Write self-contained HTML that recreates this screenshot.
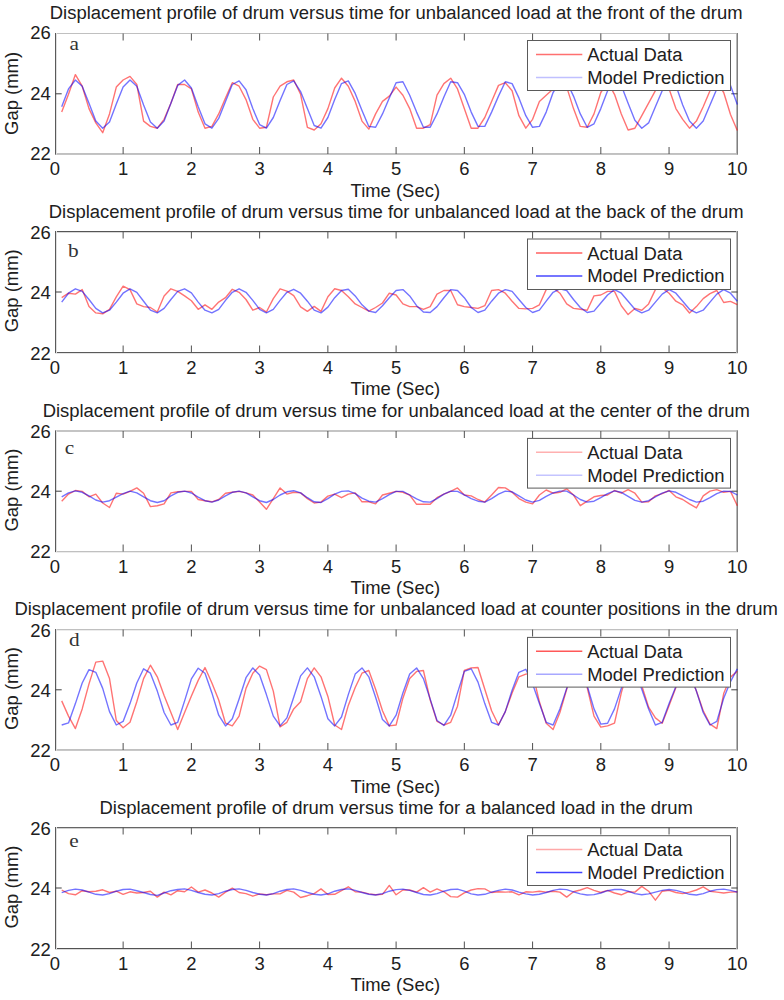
<!DOCTYPE html>
<html><head><meta charset="utf-8"><style>html,body{margin:0;padding:0;background:#fff;}svg{display:block;}</style></head>
<body><svg width="784" height="1000" viewBox="0 0 784 1000" font-family="Liberation Sans, sans-serif" fill="#202020">
<rect width="784" height="1000" fill="#fff"/>
<text x="396.2" y="19.4" font-size="18.45" text-anchor="middle">Displacement profile of drum versus time for unbalanced load at the front of the drum</text>
<line x1="55.0" y1="33.5" x2="738.0" y2="33.5" stroke="#c0c0c0" stroke-width="1"/>
<line x1="55.0" y1="153.5" x2="738.0" y2="153.5" stroke="#c0c0c0" stroke-width="1"/>
<line x1="55.0" y1="154.5" x2="738.0" y2="154.5" stroke="#c4c4c4" stroke-width="1"/>
<line x1="56.5" y1="33.0" x2="56.5" y2="154.5" stroke="#e0e0e0"/>
<line x1="55.5" y1="33.0" x2="55.5" y2="154.5" stroke="#5a5a5a"/>
<line x1="736.5" y1="33.0" x2="736.5" y2="154.5" stroke="#b8b8b8"/>
<line x1="737.5" y1="33.0" x2="737.5" y2="154.5" stroke="#808080"/>
<text x="54.9" y="175.0" font-size="18.45" text-anchor="middle">0</text>
<line x1="123.14" y1="154.0" x2="123.14" y2="147.0" stroke="#505050"/>
<line x1="123.14" y1="33.5" x2="123.14" y2="40.5" stroke="#505050"/>
<text x="123.1" y="175.0" font-size="18.45" text-anchor="middle">1</text>
<line x1="191.38" y1="154.0" x2="191.38" y2="147.0" stroke="#505050"/>
<line x1="191.38" y1="33.5" x2="191.38" y2="40.5" stroke="#505050"/>
<text x="191.4" y="175.0" font-size="18.45" text-anchor="middle">2</text>
<line x1="259.62" y1="154.0" x2="259.62" y2="147.0" stroke="#505050"/>
<line x1="259.62" y1="33.5" x2="259.62" y2="40.5" stroke="#505050"/>
<text x="259.6" y="175.0" font-size="18.45" text-anchor="middle">3</text>
<line x1="327.86" y1="154.0" x2="327.86" y2="147.0" stroke="#505050"/>
<line x1="327.86" y1="33.5" x2="327.86" y2="40.5" stroke="#505050"/>
<text x="327.9" y="175.0" font-size="18.45" text-anchor="middle">4</text>
<line x1="396.10" y1="154.0" x2="396.10" y2="147.0" stroke="#505050"/>
<line x1="396.10" y1="33.5" x2="396.10" y2="40.5" stroke="#505050"/>
<text x="396.1" y="175.0" font-size="18.45" text-anchor="middle">5</text>
<line x1="464.34" y1="154.0" x2="464.34" y2="147.0" stroke="#505050"/>
<line x1="464.34" y1="33.5" x2="464.34" y2="40.5" stroke="#505050"/>
<text x="464.3" y="175.0" font-size="18.45" text-anchor="middle">6</text>
<line x1="532.58" y1="154.0" x2="532.58" y2="147.0" stroke="#505050"/>
<line x1="532.58" y1="33.5" x2="532.58" y2="40.5" stroke="#505050"/>
<text x="532.6" y="175.0" font-size="18.45" text-anchor="middle">7</text>
<line x1="600.82" y1="154.0" x2="600.82" y2="147.0" stroke="#505050"/>
<line x1="600.82" y1="33.5" x2="600.82" y2="40.5" stroke="#505050"/>
<text x="600.8" y="175.0" font-size="18.45" text-anchor="middle">8</text>
<line x1="669.06" y1="154.0" x2="669.06" y2="147.0" stroke="#505050"/>
<line x1="669.06" y1="33.5" x2="669.06" y2="40.5" stroke="#505050"/>
<text x="669.1" y="175.0" font-size="18.45" text-anchor="middle">9</text>
<text x="737.3" y="175.0" font-size="18.45" text-anchor="middle">10</text>
<text x="50.7" y="159.90" font-size="18.45" text-anchor="end">22</text>
<line x1="55.5" y1="93.8" x2="61.7" y2="93.8" stroke="#404040"/>
<line x1="737.5" y1="93.8" x2="731.3" y2="93.8" stroke="#404040"/>
<text x="50.7" y="99.65" font-size="18.45" text-anchor="end">24</text>
<text x="50.7" y="39.40" font-size="18.45" text-anchor="end">26</text>
<text transform="translate(18.3,93.40) rotate(-90)" font-size="18.45" text-anchor="middle">Gap (mm)</text>
<text x="395.3" y="196.9" font-size="18.45" text-anchor="middle">Time (Sec)</text>
<text transform="translate(69.6,50.3) scale(1.17,1)" font-size="18.2" fill="#333" font-family="Liberation Serif, serif">a</text>
<polyline points="61.7,112.1 68.5,94.3 75.4,74.6 82.2,86.2 89.0,108.6 95.8,122.9 102.7,132.7 109.5,113.9 116.3,87.1 123.1,80.0 130.0,76.4 136.8,84.5 143.6,121.1 150.4,126.4 157.3,128.2 164.1,119.3 170.9,103.2 177.7,84.5 184.6,84.5 191.4,88.9 198.2,112.1 205.0,128.2 211.9,126.4 218.7,113.9 225.5,97.9 232.3,82.7 239.1,86.2 246.0,99.6 252.8,119.3 259.6,128.2 266.4,127.3 273.3,97.0 280.1,86.2 286.9,81.8 293.7,80.0 300.6,94.3 307.4,127.3 314.2,130.0 321.0,123.8 327.9,108.6 334.7,88.0 341.5,78.2 348.3,86.2 355.2,101.4 362.0,121.1 368.8,129.1 375.6,113.9 382.5,101.4 389.3,96.1 396.1,87.1 402.9,95.2 409.7,108.6 416.6,128.2 423.4,128.2 430.2,124.6 437.0,95.2 443.9,83.6 450.7,78.2 457.5,88.9 464.3,108.6 471.2,128.2 478.0,128.2 484.8,117.5 491.6,101.4 498.5,85.4 505.3,82.7 512.1,90.7 518.9,115.7 525.8,128.2 532.6,119.3 539.4,101.4 546.2,95.2 553.1,88.9 559.9,81.8 566.7,87.1 573.5,108.6 580.3,126.4 587.2,127.3 594.0,113.9 600.8,92.5 607.6,81.8 614.5,94.3 621.3,113.9 628.1,130.0 634.9,128.2 641.8,115.7 648.6,103.2 655.4,90.7 662.2,81.8 669.1,88.9 675.9,108.6 682.7,119.3 689.5,128.2 696.4,121.1 703.2,106.8 710.0,90.7 716.8,81.8 723.7,92.5 730.5,114.5 737.3,130.5" fill="none" stroke="#ff0000" stroke-opacity="0.55" stroke-width="1.4" stroke-linejoin="round"/>
<polyline points="61.7,106.8 68.5,88.9 75.4,80.0 82.2,86.2 89.0,103.2 95.8,121.1 102.7,128.2 109.5,122.0 116.3,104.1 123.1,87.1 130.0,80.0 136.8,86.2 143.6,105.0 150.4,122.0 157.3,128.2 164.1,121.1 170.9,103.2 177.7,85.4 184.6,80.0 191.4,88.0 198.2,106.8 205.0,123.8 211.9,128.2 218.7,118.4 225.5,101.4 232.3,84.5 239.1,80.9 246.0,89.8 252.8,108.6 259.6,124.6 266.4,128.2 273.3,117.5 280.1,100.5 286.9,84.5 293.7,80.9 300.6,91.6 307.4,108.6 314.2,125.5 321.0,128.2 327.9,117.5 334.7,99.6 341.5,83.6 348.3,80.9 355.2,93.4 362.0,110.4 368.8,126.4 375.6,127.3 382.5,113.9 389.3,97.9 396.1,82.7 402.9,81.8 409.7,95.2 416.6,112.1 423.4,127.3 430.2,127.3 437.0,113.9 443.9,97.0 450.7,81.8 457.5,82.7 464.3,94.3 471.2,112.1 478.0,126.4 484.8,126.4 491.6,112.1 498.5,96.1 505.3,81.8 512.1,83.6 518.9,97.9 525.8,115.7 532.6,127.3 539.4,126.4 546.2,112.1 553.1,92.5 559.9,81.8 566.7,81.8 573.5,96.1 580.3,113.9 587.2,127.3 594.0,123.8 600.8,108.6 607.6,90.7 614.5,81.8 621.3,85.4 628.1,103.2 634.9,120.2 641.8,128.2 648.6,122.9 655.4,106.8 662.2,90.7 669.1,81.8 675.9,85.4 682.7,105.0 689.5,121.1 696.4,128.2 703.2,121.1 710.0,105.0 716.8,88.9 723.7,81.8 730.5,85.4 737.3,104.6" fill="none" stroke="#0000ff" stroke-opacity="0.55" stroke-width="1.4" stroke-linejoin="round"/>
<rect x="527.5" y="40.50" width="203" height="50.00" fill="#fff" stroke="#5a5a5a" stroke-width="1"/>
<line x1="536" y1="54.40" x2="582.3" y2="54.40" stroke="#ff7070" stroke-width="1.5"/>
<line x1="536" y1="77.40" x2="582.3" y2="77.40" stroke="#c0c0ff" stroke-width="1.5"/>
<text x="587.2" y="61.10" font-size="18.45">Actual Data</text>
<text x="587.2" y="83.60" font-size="18.45">Model Prediction</text>
<text x="396.2" y="217.9" font-size="18.45" text-anchor="middle">Displacement profile of drum versus time for unbalanced load at the back of the drum</text>
<line x1="55.0" y1="231.5" x2="738.0" y2="231.5" stroke="#555" stroke-width="1"/>
<line x1="55.0" y1="232.5" x2="738.0" y2="232.5" stroke="#d8d8d8" stroke-width="1"/>
<line x1="55.0" y1="352.5" x2="738.0" y2="352.5" stroke="#5a5a5a" stroke-width="1"/>
<line x1="55.0" y1="353.5" x2="738.0" y2="353.5" stroke="#e4e4e4" stroke-width="1"/>
<line x1="56.5" y1="231.0" x2="56.5" y2="353.0" stroke="#e0e0e0"/>
<line x1="55.5" y1="231.0" x2="55.5" y2="353.0" stroke="#5a5a5a"/>
<line x1="736.5" y1="231.0" x2="736.5" y2="353.0" stroke="#b8b8b8"/>
<line x1="737.5" y1="231.0" x2="737.5" y2="353.0" stroke="#808080"/>
<text x="54.9" y="373.5" font-size="18.45" text-anchor="middle">0</text>
<line x1="123.14" y1="352.5" x2="123.14" y2="345.5" stroke="#505050"/>
<line x1="123.14" y1="231.5" x2="123.14" y2="238.5" stroke="#505050"/>
<text x="123.1" y="373.5" font-size="18.45" text-anchor="middle">1</text>
<line x1="191.38" y1="352.5" x2="191.38" y2="345.5" stroke="#505050"/>
<line x1="191.38" y1="231.5" x2="191.38" y2="238.5" stroke="#505050"/>
<text x="191.4" y="373.5" font-size="18.45" text-anchor="middle">2</text>
<line x1="259.62" y1="352.5" x2="259.62" y2="345.5" stroke="#505050"/>
<line x1="259.62" y1="231.5" x2="259.62" y2="238.5" stroke="#505050"/>
<text x="259.6" y="373.5" font-size="18.45" text-anchor="middle">3</text>
<line x1="327.86" y1="352.5" x2="327.86" y2="345.5" stroke="#505050"/>
<line x1="327.86" y1="231.5" x2="327.86" y2="238.5" stroke="#505050"/>
<text x="327.9" y="373.5" font-size="18.45" text-anchor="middle">4</text>
<line x1="396.10" y1="352.5" x2="396.10" y2="345.5" stroke="#505050"/>
<line x1="396.10" y1="231.5" x2="396.10" y2="238.5" stroke="#505050"/>
<text x="396.1" y="373.5" font-size="18.45" text-anchor="middle">5</text>
<line x1="464.34" y1="352.5" x2="464.34" y2="345.5" stroke="#505050"/>
<line x1="464.34" y1="231.5" x2="464.34" y2="238.5" stroke="#505050"/>
<text x="464.3" y="373.5" font-size="18.45" text-anchor="middle">6</text>
<line x1="532.58" y1="352.5" x2="532.58" y2="345.5" stroke="#505050"/>
<line x1="532.58" y1="231.5" x2="532.58" y2="238.5" stroke="#505050"/>
<text x="532.6" y="373.5" font-size="18.45" text-anchor="middle">7</text>
<line x1="600.82" y1="352.5" x2="600.82" y2="345.5" stroke="#505050"/>
<line x1="600.82" y1="231.5" x2="600.82" y2="238.5" stroke="#505050"/>
<text x="600.8" y="373.5" font-size="18.45" text-anchor="middle">8</text>
<line x1="669.06" y1="352.5" x2="669.06" y2="345.5" stroke="#505050"/>
<line x1="669.06" y1="231.5" x2="669.06" y2="238.5" stroke="#505050"/>
<text x="669.1" y="373.5" font-size="18.45" text-anchor="middle">9</text>
<text x="737.3" y="373.5" font-size="18.45" text-anchor="middle">10</text>
<text x="50.7" y="359.60" font-size="18.45" text-anchor="end">22</text>
<line x1="55.5" y1="292.0" x2="61.7" y2="292.0" stroke="#404040"/>
<line x1="737.5" y1="292.0" x2="731.3" y2="292.0" stroke="#404040"/>
<text x="50.7" y="299.10" font-size="18.45" text-anchor="end">24</text>
<text x="50.7" y="238.60" font-size="18.45" text-anchor="end">26</text>
<text transform="translate(18.3,290.80) rotate(-90)" font-size="18.45" text-anchor="middle">Gap (mm)</text>
<text x="395.3" y="395.4" font-size="18.45" text-anchor="middle">Time (Sec)</text>
<text transform="translate(67.9,256.9) scale(1.17,1)" font-size="18.2" fill="#333" font-family="Liberation Serif, serif">b</text>
<polyline points="61.7,297.7 68.5,293.2 75.4,294.1 82.2,289.6 89.0,306.6 95.8,312.9 102.7,313.8 109.5,309.3 116.3,296.8 123.1,286.1 130.0,289.6 136.8,303.9 143.6,306.6 150.4,307.5 157.3,312.0 164.1,295.9 170.9,288.8 177.7,291.4 184.6,295.9 191.4,300.7 198.2,309.3 205.0,304.8 211.9,309.3 218.7,302.1 225.5,297.7 232.3,289.3 239.1,292.3 246.0,299.5 252.8,310.2 259.6,307.5 266.4,312.0 273.3,298.6 280.1,288.8 286.9,291.1 293.7,295.7 300.6,306.8 307.4,311.4 314.2,306.4 321.0,311.4 327.9,296.8 334.7,288.8 341.5,290.5 348.3,296.8 355.2,303.9 362.0,307.5 368.8,311.1 375.6,307.5 382.5,303.0 389.3,293.2 396.1,295.0 402.9,303.9 409.7,306.6 416.6,306.6 423.4,309.3 430.2,306.6 437.0,294.1 443.9,290.5 450.7,290.5 457.5,304.8 464.3,306.6 471.2,307.5 478.0,308.4 484.8,305.7 491.6,290.5 498.5,289.6 505.3,293.2 512.1,301.2 518.9,308.4 525.8,308.9 532.6,308.4 539.4,304.8 546.2,289.6 553.1,287.9 559.9,293.2 566.7,303.9 573.5,308.4 580.3,309.3 587.2,310.2 594.0,295.9 600.8,295.0 607.6,291.4 614.5,291.4 621.3,305.7 628.1,314.6 634.9,308.4 641.8,310.2 648.6,303.9 655.4,289.6 662.2,287.9 669.1,293.2 675.9,301.2 682.7,304.8 689.5,313.0 696.4,306.6 703.2,298.6 710.0,293.6 716.8,290.5 723.7,302.5 730.5,301.4 737.3,304.6" fill="none" stroke="#ff0000" stroke-opacity="0.55" stroke-width="1.4" stroke-linejoin="round"/>
<polyline points="61.7,302.1 68.5,293.2 75.4,288.8 82.2,291.4 89.0,299.5 95.8,308.4 102.7,312.9 109.5,310.2 116.3,302.1 123.1,293.2 130.0,288.8 136.8,292.3 143.6,301.2 150.4,310.2 157.3,312.9 164.1,308.4 170.9,299.5 177.7,291.4 184.6,288.8 191.4,292.9 198.2,302.1 205.0,310.2 211.9,312.9 218.7,309.3 225.5,300.4 232.3,292.3 239.1,288.8 246.0,292.3 252.8,300.4 259.6,309.3 266.4,312.9 273.3,309.3 280.1,300.4 286.9,292.3 293.7,289.3 300.6,293.2 307.4,301.2 314.2,310.2 321.0,312.9 327.9,307.1 334.7,297.7 341.5,290.5 348.3,289.3 355.2,295.9 362.0,304.8 368.8,311.1 375.6,312.5 382.5,305.7 389.3,297.7 396.1,290.5 402.9,289.6 409.7,295.9 416.6,305.7 423.4,312.0 430.2,312.5 437.0,306.6 443.9,297.7 450.7,289.6 457.5,290.5 464.3,297.7 471.2,307.5 478.0,312.5 484.8,310.2 491.6,301.2 498.5,293.2 505.3,289.6 512.1,291.4 518.9,299.5 525.8,307.5 532.6,312.5 539.4,310.2 546.2,301.2 553.1,292.3 559.9,288.8 566.7,290.5 573.5,299.5 580.3,307.5 587.2,312.5 594.0,311.1 600.8,303.0 607.6,295.0 614.5,289.6 621.3,293.2 628.1,301.2 634.9,309.3 641.8,312.9 648.6,310.2 655.4,302.1 662.2,294.1 669.1,289.6 675.9,293.2 682.7,301.2 689.5,309.3 696.4,312.9 703.2,310.2 710.0,302.1 716.8,294.1 723.7,289.6 730.5,293.2 737.3,301.2" fill="none" stroke="#0000ff" stroke-opacity="0.55" stroke-width="1.4" stroke-linejoin="round"/>
<rect x="527.5" y="239.00" width="203" height="50.50" fill="#fff" stroke="#5a5a5a" stroke-width="1"/>
<line x1="536" y1="252.90" x2="582.3" y2="252.90" stroke="#ff6060" stroke-width="1.5"/>
<line x1="536" y1="275.90" x2="582.3" y2="275.90" stroke="#4848ff" stroke-width="1.5"/>
<text x="587.2" y="259.60" font-size="18.45">Actual Data</text>
<text x="587.2" y="282.10" font-size="18.45">Model Prediction</text>
<text x="396.2" y="416.9" font-size="18.45" text-anchor="middle">Displacement profile of drum versus time for unbalanced load at the center of the drum</text>
<line x1="55.0" y1="430.5" x2="738.0" y2="430.5" stroke="#c4c4c4" stroke-width="1"/>
<line x1="55.0" y1="431.5" x2="738.0" y2="431.5" stroke="#c4c4c4" stroke-width="1"/>
<line x1="55.0" y1="551.5" x2="738.0" y2="551.5" stroke="#c0c0c0" stroke-width="1"/>
<line x1="55.0" y1="552.5" x2="738.0" y2="552.5" stroke="#ececec" stroke-width="1"/>
<line x1="56.5" y1="430.5" x2="56.5" y2="552.0" stroke="#e0e0e0"/>
<line x1="55.5" y1="430.5" x2="55.5" y2="552.0" stroke="#5a5a5a"/>
<line x1="736.5" y1="430.5" x2="736.5" y2="552.0" stroke="#b8b8b8"/>
<line x1="737.5" y1="430.5" x2="737.5" y2="552.0" stroke="#808080"/>
<text x="54.9" y="572.5" font-size="18.45" text-anchor="middle">0</text>
<line x1="123.14" y1="551.5" x2="123.14" y2="544.5" stroke="#505050"/>
<line x1="123.14" y1="431.0" x2="123.14" y2="438.0" stroke="#505050"/>
<text x="123.1" y="572.5" font-size="18.45" text-anchor="middle">1</text>
<line x1="191.38" y1="551.5" x2="191.38" y2="544.5" stroke="#505050"/>
<line x1="191.38" y1="431.0" x2="191.38" y2="438.0" stroke="#505050"/>
<text x="191.4" y="572.5" font-size="18.45" text-anchor="middle">2</text>
<line x1="259.62" y1="551.5" x2="259.62" y2="544.5" stroke="#505050"/>
<line x1="259.62" y1="431.0" x2="259.62" y2="438.0" stroke="#505050"/>
<text x="259.6" y="572.5" font-size="18.45" text-anchor="middle">3</text>
<line x1="327.86" y1="551.5" x2="327.86" y2="544.5" stroke="#505050"/>
<line x1="327.86" y1="431.0" x2="327.86" y2="438.0" stroke="#505050"/>
<text x="327.9" y="572.5" font-size="18.45" text-anchor="middle">4</text>
<line x1="396.10" y1="551.5" x2="396.10" y2="544.5" stroke="#505050"/>
<line x1="396.10" y1="431.0" x2="396.10" y2="438.0" stroke="#505050"/>
<text x="396.1" y="572.5" font-size="18.45" text-anchor="middle">5</text>
<line x1="464.34" y1="551.5" x2="464.34" y2="544.5" stroke="#505050"/>
<line x1="464.34" y1="431.0" x2="464.34" y2="438.0" stroke="#505050"/>
<text x="464.3" y="572.5" font-size="18.45" text-anchor="middle">6</text>
<line x1="532.58" y1="551.5" x2="532.58" y2="544.5" stroke="#505050"/>
<line x1="532.58" y1="431.0" x2="532.58" y2="438.0" stroke="#505050"/>
<text x="532.6" y="572.5" font-size="18.45" text-anchor="middle">7</text>
<line x1="600.82" y1="551.5" x2="600.82" y2="544.5" stroke="#505050"/>
<line x1="600.82" y1="431.0" x2="600.82" y2="438.0" stroke="#505050"/>
<text x="600.8" y="572.5" font-size="18.45" text-anchor="middle">8</text>
<line x1="669.06" y1="551.5" x2="669.06" y2="544.5" stroke="#505050"/>
<line x1="669.06" y1="431.0" x2="669.06" y2="438.0" stroke="#505050"/>
<text x="669.1" y="572.5" font-size="18.45" text-anchor="middle">9</text>
<text x="737.3" y="572.5" font-size="18.45" text-anchor="middle">10</text>
<text x="50.7" y="558.30" font-size="18.45" text-anchor="end">22</text>
<line x1="55.5" y1="491.2" x2="61.7" y2="491.2" stroke="#404040"/>
<line x1="737.5" y1="491.2" x2="731.3" y2="491.2" stroke="#404040"/>
<text x="50.7" y="498.05" font-size="18.45" text-anchor="end">24</text>
<text x="50.7" y="437.80" font-size="18.45" text-anchor="end">26</text>
<text transform="translate(18.3,490.05) rotate(-90)" font-size="18.45" text-anchor="middle">Gap (mm)</text>
<text x="395.3" y="594.4" font-size="18.45" text-anchor="middle">Time (Sec)</text>
<text transform="translate(64.8,454.2) scale(1.17,1)" font-size="18.2" fill="#333" font-family="Liberation Serif, serif">c</text>
<polyline points="61.7,501.2 68.5,494.1 75.4,490.5 82.2,491.4 89.0,496.8 95.8,494.1 102.7,503.0 109.5,507.5 116.3,493.2 123.1,494.1 130.0,491.4 136.8,487.9 143.6,493.2 150.4,506.6 157.3,505.7 164.1,503.9 170.9,492.9 177.7,491.8 184.6,491.4 191.4,491.4 198.2,499.5 205.0,500.7 211.9,501.8 218.7,499.5 225.5,493.2 232.3,492.3 239.1,491.4 246.0,492.9 252.8,495.0 259.6,502.1 266.4,509.3 273.3,498.6 280.1,487.9 286.9,494.1 293.7,492.3 300.6,492.9 307.4,498.6 314.2,503.0 321.0,502.1 327.9,496.1 334.7,494.1 341.5,497.7 348.3,494.1 355.2,492.9 362.0,501.8 368.8,501.8 375.6,503.9 382.5,495.0 389.3,493.2 396.1,491.4 402.9,492.3 409.7,495.0 416.6,504.3 423.4,504.3 430.2,504.3 437.0,497.7 443.9,494.1 450.7,491.4 457.5,487.9 464.3,495.0 471.2,495.9 478.0,499.5 484.8,502.1 491.6,495.0 498.5,487.5 505.3,487.9 512.1,492.3 518.9,498.6 525.8,502.1 532.6,503.9 539.4,495.0 546.2,490.0 553.1,493.2 559.9,492.3 566.7,488.8 573.5,495.0 580.3,505.7 587.2,501.2 594.0,496.8 600.8,495.5 607.6,495.0 614.5,490.5 621.3,493.2 628.1,489.6 634.9,493.2 641.8,502.1 648.6,501.8 655.4,495.9 662.2,493.6 669.1,490.5 675.9,496.8 682.7,499.5 689.5,503.9 696.4,507.9 703.2,495.9 710.0,491.1 716.8,489.6 723.7,492.3 730.5,491.4 737.3,505.7" fill="none" stroke="#ff0000" stroke-opacity="0.55" stroke-width="1.4" stroke-linejoin="round"/>
<polyline points="61.7,496.8 68.5,492.9 75.4,490.9 82.2,492.3 89.0,495.9 95.8,500.0 102.7,502.1 109.5,500.7 116.3,497.1 123.1,493.6 130.0,491.1 136.8,492.9 143.6,496.8 150.4,500.7 157.3,502.5 164.1,500.7 170.9,495.9 177.7,492.3 184.6,491.1 191.4,493.0 198.2,497.1 205.0,500.7 211.9,502.1 218.7,500.0 225.5,495.9 232.3,492.3 239.1,491.1 246.0,492.9 252.8,496.8 259.6,500.7 266.4,502.5 273.3,499.5 280.1,495.0 286.9,491.8 293.7,490.7 300.6,492.9 307.4,497.7 314.2,501.8 321.0,502.5 327.9,498.6 334.7,494.1 341.5,491.4 348.3,490.9 355.2,493.6 362.0,498.2 368.8,501.2 375.6,502.1 382.5,498.6 389.3,494.6 396.1,491.4 402.9,491.4 409.7,495.0 416.6,498.9 423.4,501.8 430.2,502.1 437.0,498.6 443.9,494.1 450.7,491.1 457.5,491.4 464.3,494.8 471.2,498.6 478.0,501.2 484.8,502.1 491.6,498.6 498.5,494.1 505.3,491.1 512.1,491.8 518.9,495.9 525.8,500.0 532.6,502.1 539.4,500.4 546.2,496.4 553.1,492.9 559.9,491.1 566.7,491.1 573.5,495.0 580.3,499.5 587.2,502.1 594.0,501.2 600.8,497.7 607.6,493.6 614.5,490.9 621.3,492.3 628.1,496.4 634.9,500.4 641.8,502.1 648.6,500.7 655.4,496.8 662.2,493.2 669.1,490.9 675.9,492.3 682.7,495.9 689.5,499.5 696.4,502.1 703.2,501.2 710.0,497.7 716.8,493.6 723.7,491.1 730.5,491.4 737.3,495.0" fill="none" stroke="#0000ff" stroke-opacity="0.55" stroke-width="1.4" stroke-linejoin="round"/>
<rect x="527.5" y="438.40" width="203" height="49.70" fill="#fff" stroke="#5a5a5a" stroke-width="1"/>
<line x1="536" y1="452.30" x2="582.3" y2="452.30" stroke="#ffb0b0" stroke-width="1.5"/>
<line x1="536" y1="475.30" x2="582.3" y2="475.30" stroke="#c4c4ff" stroke-width="1.5"/>
<text x="587.2" y="459.00" font-size="18.45">Actual Data</text>
<text x="587.2" y="481.50" font-size="18.45">Model Prediction</text>
<text x="396.2" y="615.1" font-size="18.45" text-anchor="middle">Displacement profile of drum versus time for unbalanced load at counter positions in the drum</text>
<line x1="55.0" y1="629.5" x2="738.0" y2="629.5" stroke="#c0c0c0" stroke-width="1"/>
<line x1="55.0" y1="630.5" x2="738.0" y2="630.5" stroke="#ececec" stroke-width="1"/>
<line x1="55.0" y1="749.5" x2="738.0" y2="749.5" stroke="#c0c0c0" stroke-width="1"/>
<line x1="55.0" y1="750.5" x2="738.0" y2="750.5" stroke="#c8c8c8" stroke-width="1"/>
<line x1="56.5" y1="629.0" x2="56.5" y2="750.5" stroke="#e0e0e0"/>
<line x1="55.5" y1="629.0" x2="55.5" y2="750.5" stroke="#5a5a5a"/>
<line x1="736.5" y1="629.0" x2="736.5" y2="750.5" stroke="#b8b8b8"/>
<line x1="737.5" y1="629.0" x2="737.5" y2="750.5" stroke="#808080"/>
<text x="54.9" y="771.0" font-size="18.45" text-anchor="middle">0</text>
<line x1="123.14" y1="750.0" x2="123.14" y2="743.0" stroke="#505050"/>
<line x1="123.14" y1="629.5" x2="123.14" y2="636.5" stroke="#505050"/>
<text x="123.1" y="771.0" font-size="18.45" text-anchor="middle">1</text>
<line x1="191.38" y1="750.0" x2="191.38" y2="743.0" stroke="#505050"/>
<line x1="191.38" y1="629.5" x2="191.38" y2="636.5" stroke="#505050"/>
<text x="191.4" y="771.0" font-size="18.45" text-anchor="middle">2</text>
<line x1="259.62" y1="750.0" x2="259.62" y2="743.0" stroke="#505050"/>
<line x1="259.62" y1="629.5" x2="259.62" y2="636.5" stroke="#505050"/>
<text x="259.6" y="771.0" font-size="18.45" text-anchor="middle">3</text>
<line x1="327.86" y1="750.0" x2="327.86" y2="743.0" stroke="#505050"/>
<line x1="327.86" y1="629.5" x2="327.86" y2="636.5" stroke="#505050"/>
<text x="327.9" y="771.0" font-size="18.45" text-anchor="middle">4</text>
<line x1="396.10" y1="750.0" x2="396.10" y2="743.0" stroke="#505050"/>
<line x1="396.10" y1="629.5" x2="396.10" y2="636.5" stroke="#505050"/>
<text x="396.1" y="771.0" font-size="18.45" text-anchor="middle">5</text>
<line x1="464.34" y1="750.0" x2="464.34" y2="743.0" stroke="#505050"/>
<line x1="464.34" y1="629.5" x2="464.34" y2="636.5" stroke="#505050"/>
<text x="464.3" y="771.0" font-size="18.45" text-anchor="middle">6</text>
<line x1="532.58" y1="750.0" x2="532.58" y2="743.0" stroke="#505050"/>
<line x1="532.58" y1="629.5" x2="532.58" y2="636.5" stroke="#505050"/>
<text x="532.6" y="771.0" font-size="18.45" text-anchor="middle">7</text>
<line x1="600.82" y1="750.0" x2="600.82" y2="743.0" stroke="#505050"/>
<line x1="600.82" y1="629.5" x2="600.82" y2="636.5" stroke="#505050"/>
<text x="600.8" y="771.0" font-size="18.45" text-anchor="middle">8</text>
<line x1="669.06" y1="750.0" x2="669.06" y2="743.0" stroke="#505050"/>
<line x1="669.06" y1="629.5" x2="669.06" y2="636.5" stroke="#505050"/>
<text x="669.1" y="771.0" font-size="18.45" text-anchor="middle">9</text>
<text x="737.3" y="771.0" font-size="18.45" text-anchor="middle">10</text>
<text x="50.7" y="757.00" font-size="18.45" text-anchor="end">22</text>
<line x1="55.5" y1="689.8" x2="61.7" y2="689.8" stroke="#404040"/>
<line x1="737.5" y1="689.8" x2="731.3" y2="689.8" stroke="#404040"/>
<text x="50.7" y="696.75" font-size="18.45" text-anchor="end">24</text>
<text x="50.7" y="636.50" font-size="18.45" text-anchor="end">26</text>
<text transform="translate(18.3,688.55) rotate(-90)" font-size="18.45" text-anchor="middle">Gap (mm)</text>
<text x="395.3" y="792.9" font-size="18.45" text-anchor="middle">Time (Sec)</text>
<text transform="translate(68.9,646.1) scale(1.17,1)" font-size="18.2" fill="#333" font-family="Liberation Serif, serif">d</text>
<polyline points="61.7,700.9 68.5,716.1 75.4,728.6 82.2,708.9 89.0,683.9 95.8,662.1 102.7,661.1 109.5,678.6 116.3,720.5 123.1,727.7 130.0,722.3 136.8,701.8 143.6,678.6 150.4,665.2 157.3,676.8 164.1,695.5 170.9,712.5 177.7,729.5 184.6,712.5 191.4,696.1 198.2,680.4 205.0,667.5 211.9,683.0 218.7,700.0 225.5,723.2 232.3,725.9 239.1,716.1 246.0,688.4 252.8,673.2 259.6,666.1 266.4,669.6 273.3,691.1 280.1,726.8 286.9,722.3 293.7,708.9 300.6,701.8 307.4,678.6 314.2,667.9 321.0,676.8 327.9,696.4 334.7,725.0 341.5,729.5 348.3,705.4 355.2,687.5 362.0,673.2 368.8,670.5 375.6,689.3 382.5,710.7 389.3,725.9 396.1,725.0 402.9,698.2 409.7,678.6 416.6,671.4 423.4,670.5 430.2,700.0 437.0,721.4 443.9,725.0 450.7,722.3 457.5,706.2 464.3,670.5 471.2,667.9 478.0,667.5 484.8,689.3 491.6,710.7 498.5,725.0 505.3,711.6 512.1,692.9 518.9,676.8 525.8,674.1 532.6,673.2 539.4,701.8 546.2,723.2 553.1,729.5 559.9,712.5 566.7,689.3 573.5,667.9 580.3,671.4 587.2,687.5 594.0,716.1 600.8,727.1 607.6,725.9 614.5,723.2 621.3,692.9 628.1,669.6 634.9,669.6 641.8,685.7 648.6,707.1 655.4,717.9 662.2,723.2 669.1,705.4 675.9,687.5 682.7,669.6 689.5,673.2 696.4,691.1 703.2,710.7 710.0,724.1 716.8,728.6 723.7,693.6 730.5,677.1 737.3,671.2" fill="none" stroke="#ff0000" stroke-opacity="0.55" stroke-width="1.4" stroke-linejoin="round"/>
<polyline points="61.7,725.0 68.5,722.9 75.4,703.6 82.2,683.0 89.0,669.6 95.8,672.3 102.7,688.4 109.5,711.6 116.3,725.0 123.1,721.4 130.0,703.6 136.8,683.0 143.6,668.8 150.4,673.2 157.3,691.1 164.1,712.5 170.9,725.0 177.7,722.3 184.6,700.9 191.4,678.9 198.2,668.2 205.0,673.2 211.9,692.9 218.7,715.2 225.5,725.9 232.3,718.8 239.1,699.1 246.0,677.7 252.8,667.9 259.6,675.0 266.4,694.6 273.3,716.1 280.1,725.9 286.9,717.9 293.7,697.3 300.6,675.9 307.4,667.9 314.2,676.8 321.0,696.4 327.9,718.8 334.7,725.9 341.5,717.0 348.3,694.6 355.2,674.1 362.0,667.9 368.8,676.8 375.6,697.3 382.5,719.6 389.3,725.9 396.1,715.2 402.9,692.9 409.7,674.1 416.6,667.9 423.4,678.6 430.2,699.1 437.0,720.5 443.9,725.4 450.7,715.2 457.5,692.9 464.3,671.4 471.2,668.8 478.0,682.1 484.8,703.6 491.6,722.3 498.5,725.0 505.3,711.6 512.1,690.2 518.9,672.3 525.8,669.3 532.6,683.9 539.4,703.6 546.2,722.3 553.1,725.0 559.9,708.9 566.7,688.4 573.5,669.6 580.3,668.8 587.2,685.7 594.0,708.9 600.8,724.1 607.6,723.2 614.5,708.9 621.3,688.4 628.1,669.6 634.9,671.4 641.8,689.3 648.6,708.9 655.4,725.0 662.2,722.3 669.1,703.6 675.9,686.6 682.7,669.6 689.5,673.2 696.4,691.1 703.2,712.5 710.0,725.0 716.8,721.4 723.7,698.2 730.5,681.6 737.3,668.8" fill="none" stroke="#0000ff" stroke-opacity="0.55" stroke-width="1.4" stroke-linejoin="round"/>
<rect x="527.5" y="637.40" width="203" height="49.70" fill="#fff" stroke="#5a5a5a" stroke-width="1"/>
<line x1="536" y1="651.30" x2="582.3" y2="651.30" stroke="#ff5858" stroke-width="1.5"/>
<line x1="536" y1="674.30" x2="582.3" y2="674.30" stroke="#a8a8ff" stroke-width="1.5"/>
<text x="587.2" y="658.00" font-size="18.45">Actual Data</text>
<text x="587.2" y="680.50" font-size="18.45">Model Prediction</text>
<text x="396.2" y="813.9" font-size="18.45" text-anchor="middle">Displacement profile of drum versus time for a balanced load in the drum</text>
<line x1="55.0" y1="827.5" x2="738.0" y2="827.5" stroke="#666" stroke-width="1"/>
<line x1="55.0" y1="828.5" x2="738.0" y2="828.5" stroke="#d0d0d0" stroke-width="1"/>
<line x1="55.0" y1="948.5" x2="738.0" y2="948.5" stroke="#525252" stroke-width="1"/>
<line x1="55.0" y1="949.5" x2="738.0" y2="949.5" stroke="#dcdcdc" stroke-width="1"/>
<line x1="56.5" y1="827.0" x2="56.5" y2="949.0" stroke="#e0e0e0"/>
<line x1="55.5" y1="827.0" x2="55.5" y2="949.0" stroke="#5a5a5a"/>
<line x1="736.5" y1="827.0" x2="736.5" y2="949.0" stroke="#b8b8b8"/>
<line x1="737.5" y1="827.0" x2="737.5" y2="949.0" stroke="#808080"/>
<text x="54.9" y="969.5" font-size="18.45" text-anchor="middle">0</text>
<line x1="123.14" y1="948.5" x2="123.14" y2="941.5" stroke="#505050"/>
<line x1="123.14" y1="827.5" x2="123.14" y2="834.5" stroke="#505050"/>
<text x="123.1" y="969.5" font-size="18.45" text-anchor="middle">1</text>
<line x1="191.38" y1="948.5" x2="191.38" y2="941.5" stroke="#505050"/>
<line x1="191.38" y1="827.5" x2="191.38" y2="834.5" stroke="#505050"/>
<text x="191.4" y="969.5" font-size="18.45" text-anchor="middle">2</text>
<line x1="259.62" y1="948.5" x2="259.62" y2="941.5" stroke="#505050"/>
<line x1="259.62" y1="827.5" x2="259.62" y2="834.5" stroke="#505050"/>
<text x="259.6" y="969.5" font-size="18.45" text-anchor="middle">3</text>
<line x1="327.86" y1="948.5" x2="327.86" y2="941.5" stroke="#505050"/>
<line x1="327.86" y1="827.5" x2="327.86" y2="834.5" stroke="#505050"/>
<text x="327.9" y="969.5" font-size="18.45" text-anchor="middle">4</text>
<line x1="396.10" y1="948.5" x2="396.10" y2="941.5" stroke="#505050"/>
<line x1="396.10" y1="827.5" x2="396.10" y2="834.5" stroke="#505050"/>
<text x="396.1" y="969.5" font-size="18.45" text-anchor="middle">5</text>
<line x1="464.34" y1="948.5" x2="464.34" y2="941.5" stroke="#505050"/>
<line x1="464.34" y1="827.5" x2="464.34" y2="834.5" stroke="#505050"/>
<text x="464.3" y="969.5" font-size="18.45" text-anchor="middle">6</text>
<line x1="532.58" y1="948.5" x2="532.58" y2="941.5" stroke="#505050"/>
<line x1="532.58" y1="827.5" x2="532.58" y2="834.5" stroke="#505050"/>
<text x="532.6" y="969.5" font-size="18.45" text-anchor="middle">7</text>
<line x1="600.82" y1="948.5" x2="600.82" y2="941.5" stroke="#505050"/>
<line x1="600.82" y1="827.5" x2="600.82" y2="834.5" stroke="#505050"/>
<text x="600.8" y="969.5" font-size="18.45" text-anchor="middle">8</text>
<line x1="669.06" y1="948.5" x2="669.06" y2="941.5" stroke="#505050"/>
<line x1="669.06" y1="827.5" x2="669.06" y2="834.5" stroke="#505050"/>
<text x="669.1" y="969.5" font-size="18.45" text-anchor="middle">9</text>
<text x="737.3" y="969.5" font-size="18.45" text-anchor="middle">10</text>
<text x="50.7" y="955.70" font-size="18.45" text-anchor="end">22</text>
<line x1="55.5" y1="888.0" x2="61.7" y2="888.0" stroke="#404040"/>
<line x1="737.5" y1="888.0" x2="731.3" y2="888.0" stroke="#404040"/>
<text x="50.7" y="895.20" font-size="18.45" text-anchor="end">24</text>
<text x="50.7" y="834.70" font-size="18.45" text-anchor="end">26</text>
<text transform="translate(18.3,887.10) rotate(-90)" font-size="18.45" text-anchor="middle">Gap (mm)</text>
<text x="395.3" y="991.4" font-size="18.45" text-anchor="middle">Time (Sec)</text>
<text transform="translate(69.2,847.1) scale(1.17,1)" font-size="18.2" fill="#333" font-family="Liberation Serif, serif">e</text>
<polyline points="61.7,890.0 68.5,893.6 75.4,894.8 82.2,890.7 89.0,891.8 95.8,891.2 102.7,889.8 109.5,892.5 116.3,891.2 123.1,894.3 130.0,891.8 136.8,893.0 143.6,892.5 150.4,891.2 157.3,897.1 164.1,892.1 170.9,894.8 177.7,890.7 184.6,891.8 191.4,887.0 198.2,892.1 205.0,890.0 211.9,893.0 218.7,897.1 225.5,892.1 232.3,888.2 239.1,892.5 246.0,893.6 252.8,896.2 259.6,893.9 266.4,894.8 273.3,893.9 280.1,893.9 286.9,890.4 293.7,892.1 300.6,897.5 307.4,895.7 314.2,893.6 321.0,888.9 327.9,894.5 334.7,894.3 341.5,890.7 348.3,886.8 355.2,891.8 362.0,892.1 368.8,893.9 375.6,894.8 382.5,894.3 389.3,885.4 396.1,894.8 402.9,890.0 409.7,890.0 416.6,892.1 423.4,887.7 430.2,892.1 437.0,888.9 443.9,891.8 450.7,896.6 457.5,897.1 464.3,892.9 471.2,890.0 478.0,888.6 484.8,888.9 491.6,892.5 498.5,891.8 505.3,892.1 512.1,891.8 518.9,894.8 525.8,891.8 532.6,892.1 539.4,891.2 546.2,892.1 553.1,891.2 559.9,892.1 566.7,897.1 573.5,891.8 580.3,890.0 587.2,887.7 594.0,890.4 600.8,892.5 607.6,890.4 614.5,893.0 621.3,894.8 628.1,891.8 634.9,892.1 641.8,886.4 648.6,891.2 655.4,900.2 662.2,891.2 669.1,890.4 675.9,892.5 682.7,893.6 689.5,892.1 696.4,890.0 703.2,886.8 710.0,891.2 716.8,892.1 723.7,893.0 730.5,892.1 737.3,891.8" fill="none" stroke="#ff0000" stroke-opacity="0.55" stroke-width="1.4" stroke-linejoin="round"/>
<polyline points="61.7,892.7 68.5,890.4 75.4,889.1 82.2,890.0 89.0,892.1 95.8,894.3 102.7,895.0 109.5,893.6 116.3,891.2 123.1,889.5 130.0,889.1 136.8,890.7 143.6,892.5 150.4,894.5 157.3,895.4 164.1,893.0 170.9,890.7 177.7,889.5 184.6,888.9 191.4,890.4 198.2,892.5 205.0,894.3 211.9,895.0 218.7,893.6 225.5,891.2 232.3,889.5 239.1,888.9 246.0,890.4 252.8,892.5 259.6,894.3 266.4,895.0 273.3,893.6 280.1,891.2 286.9,889.5 293.7,888.9 300.6,890.4 307.4,892.5 314.2,894.3 321.0,895.0 327.9,893.8 334.7,891.2 341.5,889.5 348.3,888.9 355.2,890.4 362.0,892.5 368.8,894.3 375.6,895.0 382.5,893.6 389.3,891.2 396.1,889.6 402.9,889.1 409.7,890.4 416.6,892.5 423.4,894.5 430.2,895.0 437.0,893.6 443.9,891.2 450.7,889.5 457.5,889.1 464.3,891.2 471.2,893.9 478.0,895.0 484.8,894.3 491.6,892.1 498.5,890.4 505.3,889.1 512.1,890.0 518.9,892.1 525.8,893.9 532.6,895.0 539.4,894.3 546.2,892.5 553.1,890.4 559.9,889.1 566.7,889.6 573.5,891.8 580.3,893.9 587.2,895.0 594.0,894.6 600.8,893.0 607.6,890.7 614.5,889.5 621.3,889.5 628.1,891.2 634.9,893.6 641.8,894.8 648.6,893.9 655.4,892.1 662.2,890.4 669.1,889.5 675.9,890.4 682.7,892.1 689.5,894.3 696.4,895.0 703.2,893.6 710.0,891.2 716.8,889.6 723.7,889.1 730.5,890.4 737.3,892.1" fill="none" stroke="#0000ff" stroke-opacity="0.55" stroke-width="1.4" stroke-linejoin="round"/>
<rect x="527.5" y="835.70" width="203" height="49.80" fill="#fff" stroke="#5a5a5a" stroke-width="1"/>
<line x1="536" y1="849.60" x2="582.3" y2="849.60" stroke="#ffa8a8" stroke-width="1.5"/>
<line x1="536" y1="872.60" x2="582.3" y2="872.60" stroke="#4040ff" stroke-width="1.5"/>
<text x="587.2" y="856.30" font-size="18.45">Actual Data</text>
<text x="587.2" y="878.80" font-size="18.45">Model Prediction</text>
</svg></body></html>
